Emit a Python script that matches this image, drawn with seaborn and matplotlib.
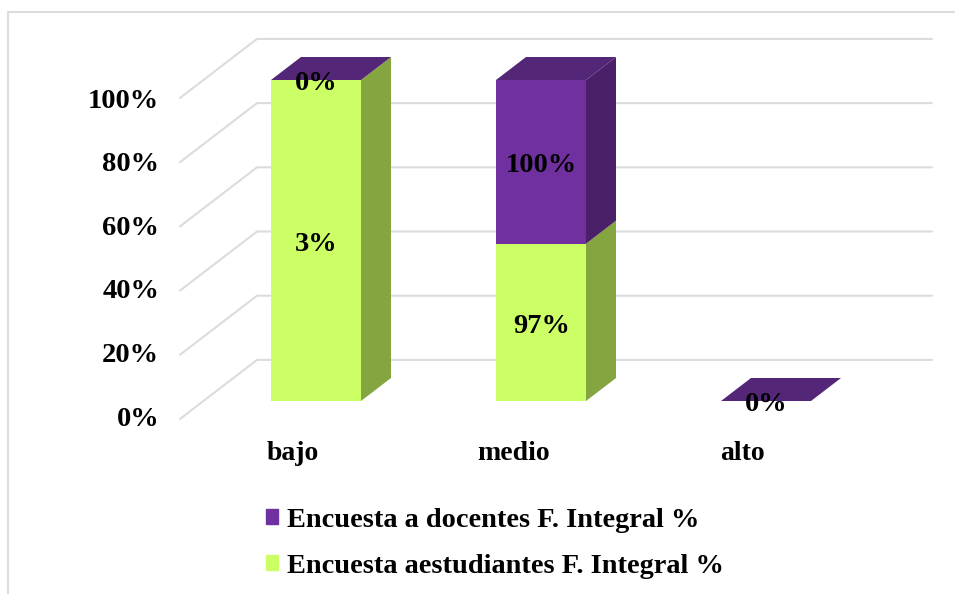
import matplotlib
matplotlib.use("Agg")
import matplotlib.pyplot as plt
import seaborn as sns
from matplotlib.lines import Line2D
from matplotlib.patches import Patch, Polygon

categories = ["bajo", "medio", "alto"]
estudiantes = [100, 49, 0]
docentes = [0, 51, 0]
etiquetas_estudiantes = ["3%", "97%", ""]
etiquetas_docentes = ["0%", "100%", "0%"]
ticks = [0, 20, 40, 60, 80, 100]

# Colors
VERDE = "#ccff66"
VERDE_LADO = "#84a53f"
MORADO = "#70309f"
MORADO_LADO = "#4a2168"
MORADO_TOPE = "#542678"
GRIS = "#dcdcdc"

W, H = 955, 594

sns.set_theme(style="white")
plt.rcParams["font.family"] = ["Liberation Serif", "DejaVu Serif"]
plt.rcParams["font.weight"] = "bold"

fig = plt.figure(figsize=(W / 100, H / 100), dpi=100)

# Axes placed by pixels: front plane of the bars, 225 px per category, 3.21 px per %
left, right, top, bottom = 180, 955, 0, 430
ax = fig.add_axes([left / W, 1 - bottom / H, (right - left) / W, (bottom - top) / H])

sns.barplot(x=categories, y=estudiantes, color=VERDE, saturation=1, width=0.4, linewidth=0, ax=ax, zorder=3)
sns.barplot(x=categories, y=docentes, bottom=estudiantes, color=MORADO, saturation=1, width=0.4, linewidth=0, ax=ax, zorder=3)

ax.set_xlim((left - 316) / 225, (right - 316) / 225)
ax.set_ylim((401 - bottom) / 3.21, (401 - top) / 3.21)
sns.despine(ax=ax, left=True, bottom=True, top=True, right=True)

# Depth of the fake 3D
dx = 30 / 225
dy = 23 / 3.21

# Walls
x_front = (180 - 316) / 225
x_back = (257 - 316) / 225
x_end = (932 - 316) / 225
for t in ticks:
    y_front = t - 5.6
    y_back = t + 12.8
    ax.plot([x_front, x_back, x_end], [y_front, y_back, y_back], color=GRIS, lw=1.5, zorder=1, clip_on=False)

# Side and top faces of every bar
for cont, lado, tope in [(ax.containers[0], VERDE_LADO, None), (ax.containers[1], MORADO_LADO, MORADO_TOPE)]:
    for p in cont:
        x0 = p.get_x()
        x1 = x0 + p.get_width()
        y0 = p.get_y()
        y1 = y0 + p.get_height()
        if y1 > y0:
            ax.add_patch(Polygon([(x1, y0), (x1 + dx, y0 + dy), (x1 + dx, y1 + dy), (x1, y1)],
                                 facecolor=lado, edgecolor="none", zorder=2.5))
        if tope:
            ax.add_patch(Polygon([(x0, y1), (x0 + dx, y1 + dy), (x1 + dx, y1 + dy), (x1, y1)],
                                 facecolor=tope, edgecolor="none", zorder=2.5))

# Value labels
for cont, textos in [(ax.containers[0], etiquetas_estudiantes), (ax.containers[1], etiquetas_docentes)]:
    for t in ax.bar_label(cont, labels=textos, label_type="center", fontsize=20.5, fontweight="bold", color="black", zorder=5):
        t.xyann = (0.3, -2.8)

# Axis labels
ax.set_yticks([(401 - 416) / 3.21 + t * 0.99 for t in ticks])
ax.set_yticklabels([f"{t}%" for t in ticks])
ax.set_xticks([-0.105, 0.88, 1.895])
ax.set_xticklabels(categories)
ax.tick_params(axis="y", length=0, pad=15, labelsize=20.5, labelcolor="black")
ax.tick_params(axis="x", length=0, pad=8, labelsize=20, labelcolor="black")
ax.set_xlabel("")
ax.set_ylabel("")

# Legend
handles = [Patch(color=MORADO), Patch(color=VERDE)]
labels = ["Encuesta a docentes F. Integral %", "Encuesta aestudiantes F. Integral %"]
fig.legend(handles, labels, loc="upper left", bbox_to_anchor=(266 / W, 1 - 508 / H), frameon=False,
           fontsize=20.4, handlelength=0.43, handleheight=0.43, handletextpad=0.32, labelspacing=0.73,
           labelcolor="black", borderaxespad=0, borderpad=0)

# Chart border: only top and left show in the picture
fig.add_artist(Line2D([8 / W, 8 / W, 1], [0, 1 - 12 / H, 1 - 12 / H], transform=fig.transFigure, color=GRIS, lw=1.5))

plt.savefig("out.png", dpi=100)
